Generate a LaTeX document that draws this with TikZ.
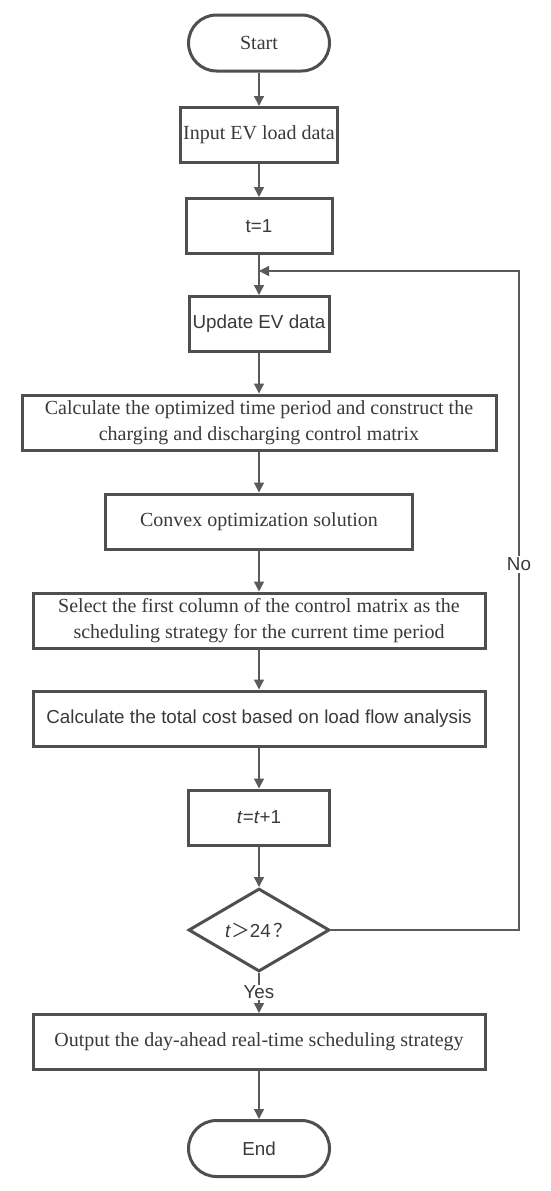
\documentclass[tikz,border=0pt]{standalone}
\usepackage{fontspec}
\setmainfont{Liberation Serif}
\setsansfont{Liberation Sans}
\newfontfamily\cjk{Noto Sans CJK SC}
\usetikzlibrary{arrows.meta,shapes.geometric}
\definecolor{bord}{HTML}{4F4F4F}
\definecolor{conn}{HTML}{5A5A5A}
\definecolor{txt}{HTML}{3A3A3A}
\begin{document}
\begin{tikzpicture}[x=1pt,y=-1pt,
  serif/.style={font=\fontsize{20}{26}\selectfont},
  sans/.style={font=\sffamily\fontsize{18.8}{23}\selectfont},
  box/.style={draw=bord, line width=3pt, fill=white, text=txt, align=center,
    inner sep=0pt, minimum height=55pt},
  term/.style={box, rounded corners=28pt, minimum width=141pt, minimum height=56pt},
  dec/.style={diamond, draw=bord, line width=3pt, fill=white, text=txt, inner sep=0pt,
    minimum width=141pt, minimum height=83pt, aspect=1.7},
  arr/.style={draw=conn, line width=1.4pt, -{Triangle[width=10pt,length=10pt]}},
  lbl/.style={sans, text=txt, fill=white, inner sep=2pt}]
\useasboundingbox (0,0) rectangle (550,1191);
\node[term, serif] (start) at (259,43) {Start};
\node[box, serif, minimum width=157pt] (input) at (259,135) {Input EV load data};
\node[box, sans, minimum width=146pt] (t1) at (259,226) {t=1};
\node[box, sans, minimum width=140pt] (upd) at (259,324) {Update EV data};
\node[box, serif, minimum width=474pt] (calc) at (259,422.5) {Calculate the optimized time period and construct the\\charging and discharging control matrix};
\node[box, serif, minimum width=307pt] (convex) at (259,521.5) {Convex optimization solution};
\node[box, serif, minimum width=452pt] (select) at (259,620.5) {Select the first column of the control matrix as the\\scheduling strategy for the current time period};
\node[box, sans, minimum width=452pt] (total) at (259,718.5) {Calculate the total cost based on load flow analysis};
\node[box, sans, minimum width=141pt] (tt) at (259,817.5) {\textit{t}=\textit{t}+1};
\node[dec, sans] (dec) at (259,930) {\textit{t}{\cjk ＞}24\,{\cjk ？}};
\node[box, serif, minimum width=452pt] (out) at (259,1042) {Output the day-ahead real-time scheduling strategy};
\node[term, sans] (end) at (259,1148.5) {End};
\coordinate (join) at (259,271);
\coordinate (nr) at (519,930);
\coordinate (nt) at (519,271);
\draw[arr] (start) -- (input);
\draw[arr] (input) -- (t1);
\draw[arr] (t1) -- (upd);
\draw[arr] (upd) -- (calc);
\draw[arr] (calc) -- (convex);
\draw[arr] (convex) -- (select);
\draw[arr] (select) -- (total);
\draw[arr] (total) -- (tt);
\draw[arr] (tt) -- (dec);
\draw[arr] (dec.east) -- (nr) -- node[lbl, pos=0.555] {No} (nt) -- (join);
\draw[arr] (dec.south) -- node[lbl, pos=0.48, inner sep=1pt] {Yes} (out.north);
\draw[arr] (out) -- (end);
\end{tikzpicture}
\end{document}
